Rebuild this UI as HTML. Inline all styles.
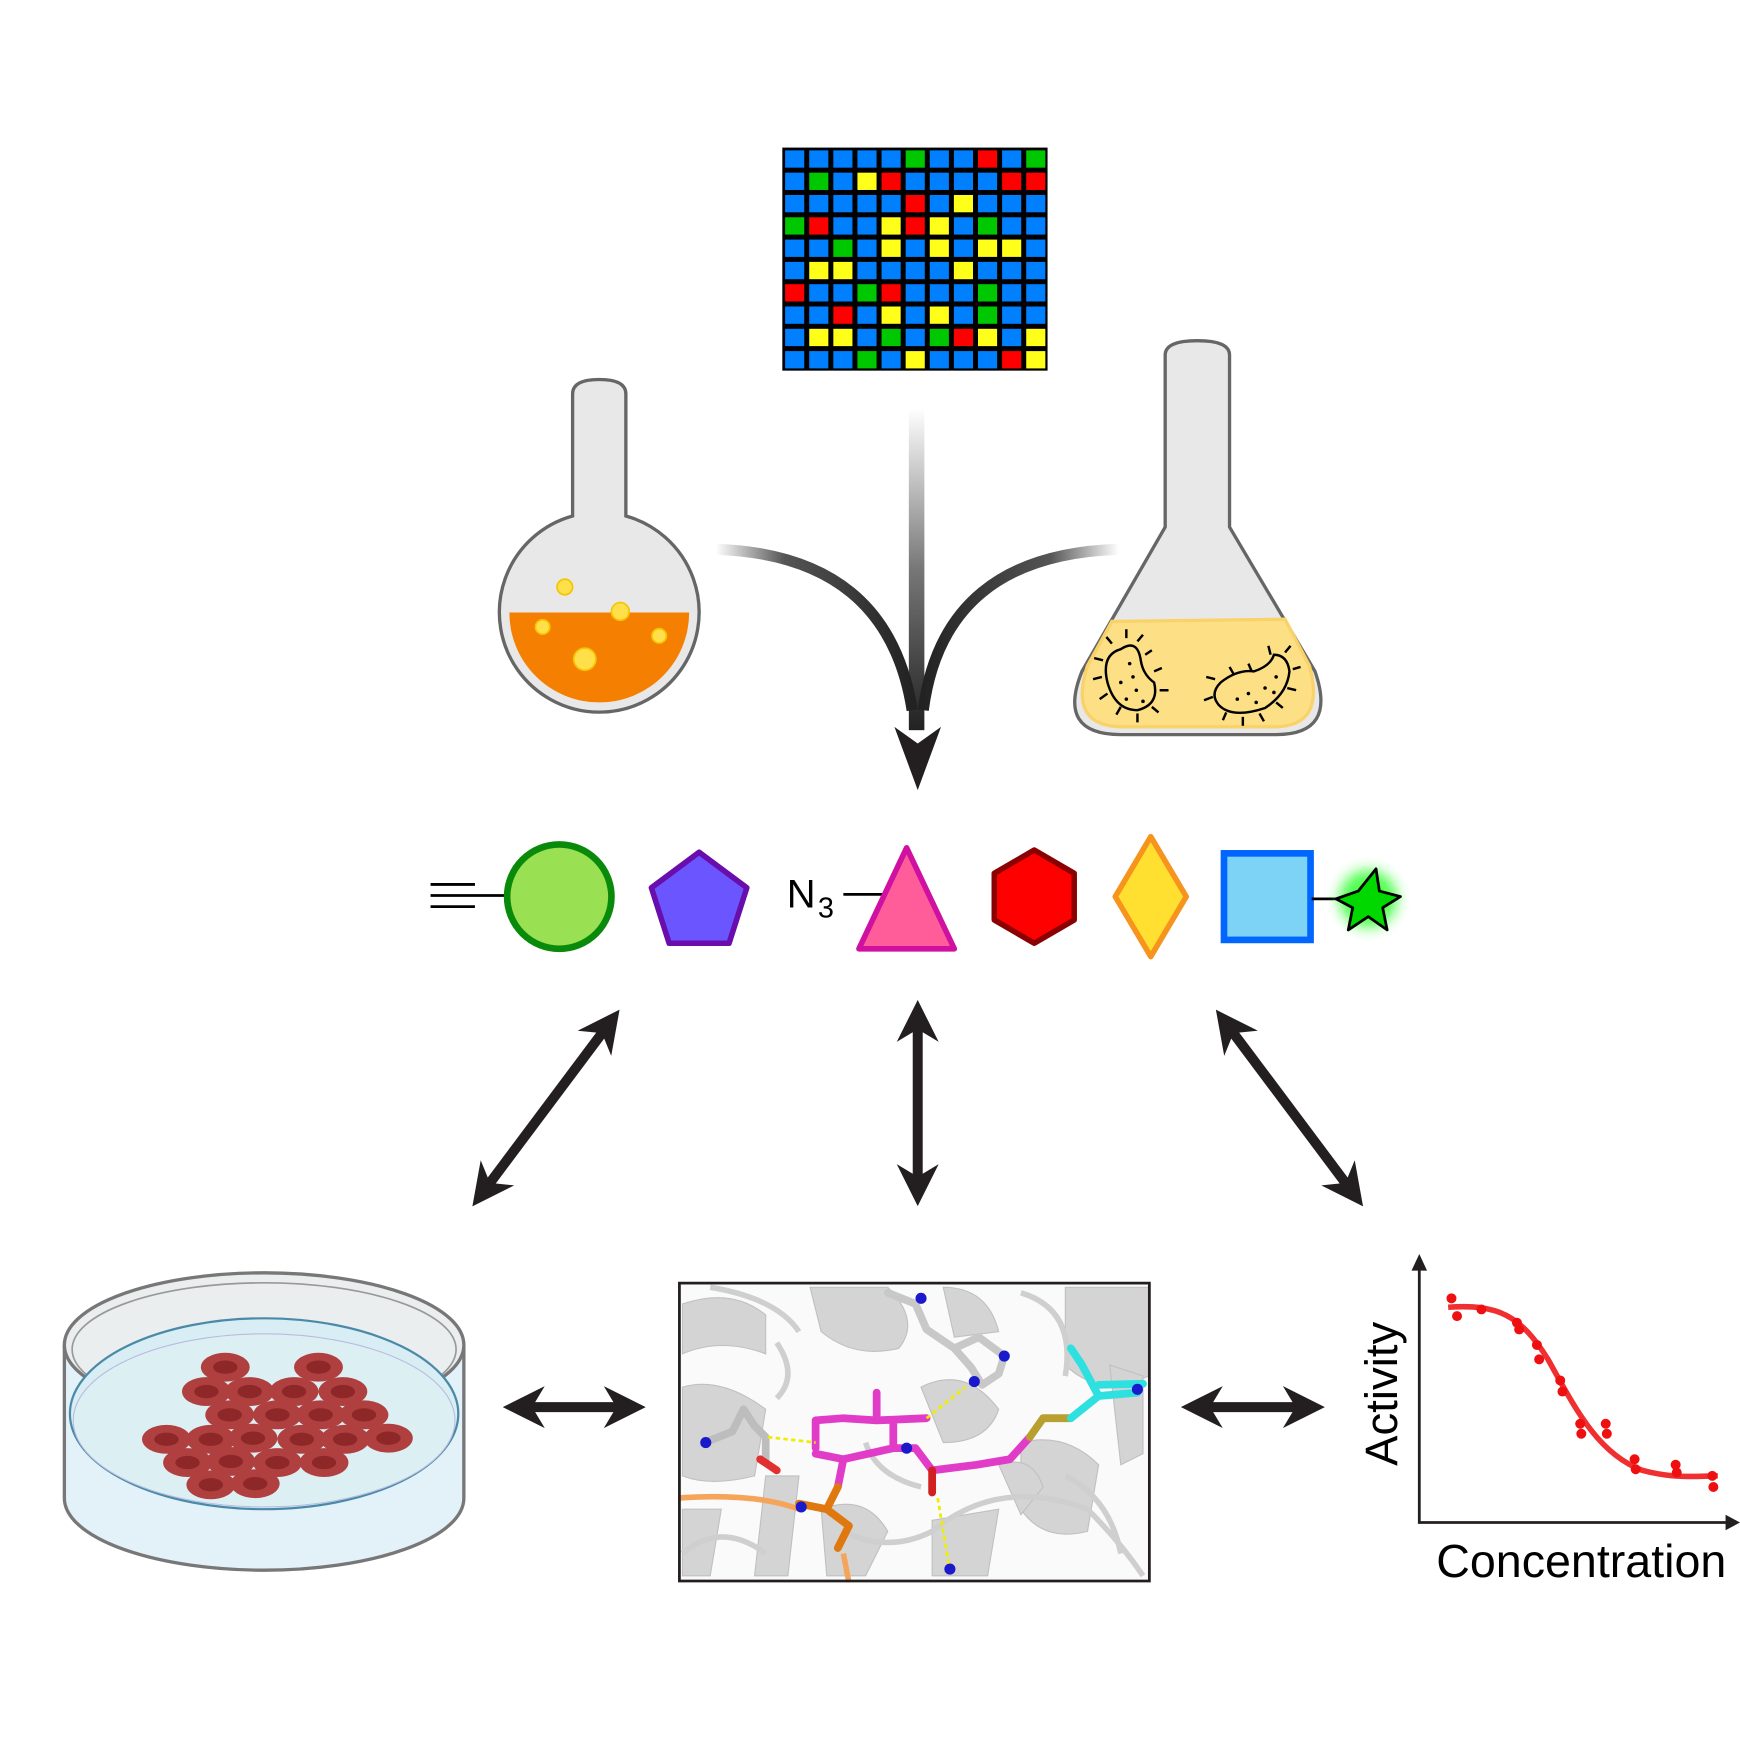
<!DOCTYPE html>
<html><head><meta charset="utf-8"><style>html,body{margin:0;padding:0;background:#fff}svg{display:block}</style></head>
<body>
<svg width="1740" height="1740" viewBox="0 0 1568 1568" xmlns="http://www.w3.org/2000/svg">
<defs>
<linearGradient id="gv" x1="0" y1="0" x2="0" y2="1"><stop offset="0" stop-color="#fff"/><stop offset="0.5" stop-color="#777"/><stop offset="1" stop-color="#222"/></linearGradient>
<linearGradient id="gl" x1="0" y1="0" x2="1" y2="0"><stop offset="0" stop-color="#fff"/><stop offset="0.35" stop-color="#555"/><stop offset="1" stop-color="#222"/></linearGradient>
<linearGradient id="gr" x1="1" y1="0" x2="0" y2="0"><stop offset="0" stop-color="#fff"/><stop offset="0.35" stop-color="#555"/><stop offset="1" stop-color="#222"/></linearGradient>
<filter id="glow" x="-1" y="-1" width="3" height="3"><feGaussianBlur stdDeviation="6"/></filter>
<marker id="ah" viewBox="0 0 10 10" refX="5" refY="5" markerWidth="4.2" markerHeight="4.2" orient="auto-start-reverse"><path d="M0,0 L10,5 L0,10 L3,5 Z" fill="#231f20"/></marker>
</defs>

<rect x="705" y="133" width="239" height="201" fill="#000"/>

<!-- round flask -->
<path d="M516,465 L516,355 Q516,342 540,342 Q564,342 564,355 L564,465 A90,90 0 1 1 516,465 Z" fill="#e8e8e8" stroke="#666" stroke-width="3"/>
<path d="M459,552 L621,552 A81,81 0 0 1 459,552 Z" fill="#f57f00"/>
<g fill="#ffe04a" stroke="#f5c400" stroke-width="1.5">
<circle cx="509" cy="529" r="7"/><circle cx="559" cy="551" r="8"/><circle cx="489" cy="565" r="6.5"/><circle cx="594" cy="573" r="6.5"/><circle cx="527" cy="594" r="10"/>
</g>

<!-- erlenmeyer -->
<path d="M1050,475 L1050,320 Q1050,307 1079,307 Q1108,307 1108,320 L1108,475 L1185,605 Q1205,662 1150,662 L1010,662 Q952,662 975,605 Z" fill="#e8e8e8" stroke="#666" stroke-width="3"/>
<path d="M1002,560 L1158,558 L1180,600 Q1195,655 1148,655 L1012,655 Q962,655 980,600 Z" fill="#fddf85" stroke="#f9d36a" stroke-width="3"/>
<g fill="none" stroke="#000" stroke-width="2.2">
<path d="M1010,585 Q1025,575 1028,595 Q1030,608 1040,615 Q1045,635 1025,640 Q1005,640 998,615 Q992,590 1010,585 Z"/>
<path d="M1100,615 Q1115,603 1130,605 Q1145,600 1148,590 Q1160,590 1162,605 Q1160,625 1140,638 Q1110,648 1098,635 Q1090,625 1100,615 Z"/>
<path d="M1002,580 l-5,-6 M1015,575 l0,-8 M1025,578 l5,-6 M994,595 l-8,-2 M993,610 l-8,2 M998,625 l-7,5 M1010,637 l-4,7 M1025,643 l0,8 M1038,637 l6,5 M1045,622 l8,0 M1040,605 l7,-3 M1032,590 l6,-4"/>
<path d="M1095,612 l-8,-2 M1093,628 l-8,3 M1105,642 l-3,7 M1120,646 l0,8 M1135,643 l4,7 M1150,633 l6,5 M1160,620 l8,2 M1165,603 l7,-2 M1158,588 l5,-6 M1145,590 l-2,-8 M1128,605 l-3,-7 M1112,608 l-4,-7"/>
</g>
<g fill="#000"><circle cx="1018" cy="598" r="1.6"/><circle cx="1021" cy="610" r="1.6"/><circle cx="1010" cy="615" r="1.6"/><circle cx="1024" cy="622" r="1.6"/><circle cx="1030" cy="632" r="1.6"/><circle cx="1015" cy="630" r="1.6"/>
<circle cx="1115" cy="630" r="1.6"/><circle cx="1125" cy="625" r="1.6"/><circle cx="1140" cy="620" r="1.6"/><circle cx="1150" cy="610" r="1.6"/><circle cx="1132" cy="633" r="1.6"/><circle cx="1148" cy="624" r="1.6"/></g>

<!-- converging arrows -->
<rect x="819" y="368" width="14" height="290" fill="url(#gv)"/>
<path d="M645,495 Q800,500 822,640" fill="none" stroke="url(#gl)" stroke-width="10"/>
<path d="M1008,495 Q850,500 832,640" fill="none" stroke="url(#gr)" stroke-width="10"/>
<path d="M806,655 L827,712 L848,655 L827,670 Z" fill="#231f20"/>

<!-- shapes row -->
<g stroke="#000" stroke-width="2.5"><line x1="388" y1="797" x2="428" y2="797"/><line x1="388" y1="807" x2="455" y2="807"/><line x1="388" y1="817" x2="428" y2="817"/></g>
<circle cx="504" cy="808" r="47" fill="#99e052" stroke="#0a8a0a" stroke-width="6"/>
<polygon points="630,768 673,800 657,850 603,850 587,800" fill="#6b55ff" stroke="#6a0dad" stroke-width="5" stroke-linejoin="round"/>
<text x="709" y="818" font-family="Liberation Sans, sans-serif" font-size="36">N</text>
<text x="737" y="827" font-family="Liberation Sans, sans-serif" font-size="26">3</text>
<line x1="760" y1="806" x2="795" y2="806" stroke="#000" stroke-width="2.5"/>
<polygon points="817,764 860,855 774,855" fill="#ff5c9a" stroke="#d010a0" stroke-width="5" stroke-linejoin="round"/>
<polygon points="932,766 968,787 968,829 932,850 896,829 896,787" fill="#ff0000" stroke="#8b0000" stroke-width="5" stroke-linejoin="round"/>
<polygon points="1037,754 1069,808 1037,862 1005,808" fill="#ffe030" stroke="#f7941d" stroke-width="5" stroke-linejoin="round"/>
<rect x="1103" y="769" width="78" height="78" fill="#7dd3f5" stroke="#0066ff" stroke-width="6"/>
<line x1="1182" y1="810" x2="1205" y2="810" stroke="#000" stroke-width="2.5"/>
<circle cx="1233" cy="810" r="26" fill="#22ff22" filter="url(#glow)" opacity="0.8"/>
<polygon points="1240,783 1243,803 1262,808 1246,818 1250,838 1233,826 1215,838 1219,818 1204,810 1224,803" fill="#00d800" stroke="#000" stroke-width="2.5" stroke-linejoin="round"/>

<!-- double arrows -->
<g stroke="#231f20" stroke-width="9" marker-start="url(#ah)" marker-end="url(#ah)">
<line x1="547" y1="925" x2="437" y2="1072"/>
<line x1="827" y1="920" x2="827" y2="1068"/>
<line x1="1107" y1="925" x2="1217" y2="1072"/>
<line x1="472" y1="1268" x2="563" y2="1268"/>
<line x1="1083" y1="1268" x2="1175" y2="1268"/>
</g>

<!-- petri dish -->
<path d="M58,1212 L58,1350 A180,65 0 0 0 418,1350 L418,1212" fill="#e3f2f8" stroke="#777" stroke-width="3"/>
<ellipse cx="238" cy="1212" rx="180" ry="65" fill="#eaeeee" stroke="#777" stroke-width="3"/>
<ellipse cx="238" cy="1216" rx="173" ry="60" fill="none" stroke="#999" stroke-width="1.5"/>
<ellipse cx="238" cy="1274" rx="175" ry="86" fill="#d8eef4" stroke="#4a8aa8" stroke-width="2"/>
<ellipse cx="238" cy="1280" rx="172" ry="78" fill="#dcf0f4" stroke="#bbd" stroke-width="1"/>
<g fill="#b04040"><ellipse cx="203" cy="1232" rx="22" ry="13"/><ellipse cx="287" cy="1232" rx="22" ry="13"/>
<ellipse cx="186" cy="1254" rx="22" ry="13"/><ellipse cx="225" cy="1254" rx="22" ry="13"/><ellipse cx="265" cy="1254" rx="22" ry="13"/><ellipse cx="309" cy="1254" rx="22" ry="13"/>
<ellipse cx="207" cy="1275" rx="22" ry="13"/><ellipse cx="250" cy="1275" rx="22" ry="13"/><ellipse cx="289" cy="1275" rx="22" ry="13"/><ellipse cx="328" cy="1275" rx="22" ry="13"/>
<ellipse cx="150" cy="1297" rx="22" ry="13"/><ellipse cx="190" cy="1297" rx="22" ry="13"/><ellipse cx="228" cy="1296" rx="22" ry="13"/><ellipse cx="272" cy="1297" rx="22" ry="13"/><ellipse cx="311" cy="1297" rx="22" ry="13"/><ellipse cx="350" cy="1296" rx="22" ry="13"/>
<ellipse cx="169" cy="1318" rx="22" ry="13"/><ellipse cx="208" cy="1317" rx="22" ry="13"/><ellipse cx="250" cy="1318" rx="22" ry="13"/><ellipse cx="292" cy="1318" rx="22" ry="13"/>
<ellipse cx="190" cy="1338" rx="22" ry="13"/><ellipse cx="230" cy="1337" rx="22" ry="13"/></g>
<g fill="#8e2828"><ellipse cx="203" cy="1232" rx="11" ry="6"/><ellipse cx="287" cy="1232" rx="11" ry="6"/>
<ellipse cx="186" cy="1254" rx="11" ry="6"/><ellipse cx="225" cy="1254" rx="11" ry="6"/><ellipse cx="265" cy="1254" rx="11" ry="6"/><ellipse cx="309" cy="1254" rx="11" ry="6"/>
<ellipse cx="207" cy="1275" rx="11" ry="6"/><ellipse cx="250" cy="1275" rx="11" ry="6"/><ellipse cx="289" cy="1275" rx="11" ry="6"/><ellipse cx="328" cy="1275" rx="11" ry="6"/>
<ellipse cx="150" cy="1297" rx="11" ry="6"/><ellipse cx="190" cy="1297" rx="11" ry="6"/><ellipse cx="228" cy="1296" rx="11" ry="6"/><ellipse cx="272" cy="1297" rx="11" ry="6"/><ellipse cx="311" cy="1297" rx="11" ry="6"/><ellipse cx="350" cy="1296" rx="11" ry="6"/>
<ellipse cx="169" cy="1318" rx="11" ry="6"/><ellipse cx="208" cy="1317" rx="11" ry="6"/><ellipse cx="250" cy="1318" rx="11" ry="6"/><ellipse cx="292" cy="1318" rx="11" ry="6"/>
<ellipse cx="190" cy="1338" rx="11" ry="6"/><ellipse cx="230" cy="1337" rx="11" ry="6"/></g>

<!-- protein box -->
<svg x="611" y="1155" width="426" height="271" viewBox="611 1155 426 271">
<rect x="611" y="1155" width="426" height="271" fill="#fafafa"/>
<g fill="#d4d4d4" stroke="#c0c0c0" stroke-width="1">
<path d="M615,1175 Q660,1160 690,1185 L690,1220 Q650,1205 615,1220 Z"/>
<path d="M730,1160 L800,1160 Q830,1190 810,1215 Q770,1225 740,1200 Z"/>
<path d="M830,1250 Q870,1230 900,1270 Q890,1300 850,1300 Z"/>
<path d="M615,1250 Q650,1240 690,1270 L680,1330 Q640,1340 615,1330 Z"/>
<path d="M960,1160 L1035,1160 L1035,1240 Q990,1260 960,1230 Z"/>
<path d="M690,1330 L720,1330 L710,1420 L680,1420 Z"/>
<path d="M920,1300 Q960,1290 990,1320 L980,1380 Q940,1390 920,1360 Z"/>
<path d="M840,1370 L900,1360 L890,1420 L840,1420 Z"/>
<path d="M1000,1230 L1030,1240 L1030,1310 L1010,1320 Z"/>
<path d="M850,1160 Q890,1160 900,1200 L860,1205 Z"/>
<path d="M740,1360 Q780,1345 800,1380 L780,1420 L745,1420 Z"/>
<path d="M900,1320 Q930,1310 940,1340 L920,1365 Z"/>
<path d="M615,1360 L650,1360 L640,1420 L615,1420 Z"/>
</g>
<g fill="none" stroke="#cfcfcf" stroke-width="5">
<path d="M700,1210 Q720,1240 700,1260"/><path d="M760,1380 Q800,1400 840,1380 Q900,1330 980,1360 Q1010,1390 1030,1420"/>
<path d="M920,1165 Q970,1180 960,1240"/><path d="M780,1300 Q790,1330 830,1340"/><path d="M615,1400 Q650,1370 690,1400"/>
<path d="M960,1330 Q1000,1350 1010,1400"/><path d="M640,1160 Q700,1170 720,1200"/>
</g>
<path d="M611,1350 Q680,1345 720,1360" fill="none" stroke="#f5a55a" stroke-width="5"/>
<path d="M760,1400 L765,1426" fill="none" stroke="#f5a55a" stroke-width="5"/>
<g fill="none" stroke-width="7" stroke-linecap="round" stroke-linejoin="round">
<path d="M800,1165 L825,1175 L835,1198 L860,1215 L875,1232 L885,1248 L900,1238 L905,1222 L882,1205 L860,1215" stroke="#c8c8c8"/>
<path d="M635,1300 L660,1290 L670,1270 L680,1285 L690,1295 L690,1318" stroke="#bdbdbd"/>
<path d="M735,1305 L735,1280 L760,1278 L790,1280 L835,1278 M790,1280 L790,1255 M805,1280 L805,1305 L760,1315 L755,1340 M805,1305 L825,1305 L840,1325 L880,1320 L910,1315 L928,1295" stroke="#e03cc8"/>
<path d="M760,1315 L735,1310" stroke="#e03cc8"/>
<path d="M840,1325 L840,1345" stroke="#d02020"/>
<path d="M928,1295 L940,1278 L965,1278" stroke="#b8a030"/>
<path d="M965,1278 L990,1258 L975,1230 L965,1215 M990,1258 L1025,1255 M990,1248 L1030,1247" stroke="#2ee0e0"/>
<path d="M755,1340 L745,1360 L765,1375 L755,1395 M745,1360 L720,1355" stroke="#e07810"/>
<path d="M685,1315 L700,1325" stroke="#e03030"/>
</g>
<g fill="#1a1acc"><circle cx="830" cy="1170" r="5"/><circle cx="878" cy="1245" r="5"/><circle cx="905" cy="1222" r="5"/><circle cx="817" cy="1305" r="5"/><circle cx="722" cy="1358" r="5"/><circle cx="856" cy="1414" r="5"/><circle cx="1025" cy="1252" r="5"/><circle cx="636" cy="1300" r="5"/></g>
<g fill="none" stroke="#eeee00" stroke-width="2.5" stroke-dasharray="4,3"><path d="M692,1295 L735,1300"/><path d="M835,1278 L870,1250"/><path d="M845,1350 L855,1410"/></g>
<rect x="611" y="1155" width="426" height="271" fill="none" stroke="#231f20" stroke-width="5"/>
</svg>

<!-- graph -->
<g stroke="#231f20" stroke-width="2.5" fill="none"><path d="M1279,1140 L1279,1372 L1562,1372"/></g>
<path d="M1272,1145 L1279,1130 L1286,1145 Z" fill="#231f20"/>
<path d="M1555,1365 L1568,1372 L1555,1379 Z" fill="#231f20"/>
<path d="M1305,1178 C1350,1175 1370,1185 1395,1225 C1420,1270 1440,1310 1480,1325 C1510,1333 1530,1330 1548,1330" fill="none" stroke="#f03030" stroke-width="5"/>
<g fill="#ee1010">
<circle cx="1308" cy="1170" r="4.5"/><circle cx="1313" cy="1186" r="4.5"/><circle cx="1335" cy="1180" r="4.5"/><circle cx="1367" cy="1192" r="4.5"/><circle cx="1369" cy="1198" r="4.5"/><circle cx="1385" cy="1212" r="4.5"/><circle cx="1387" cy="1225" r="4.5"/><circle cx="1406" cy="1244" r="4.5"/><circle cx="1408" cy="1254" r="4.5"/><circle cx="1424" cy="1283" r="4.5"/><circle cx="1425" cy="1292" r="4.5"/><circle cx="1447" cy="1283" r="4.5"/><circle cx="1448" cy="1292" r="4.5"/><circle cx="1473" cy="1315" r="4.5"/><circle cx="1474" cy="1324" r="4.5"/><circle cx="1510" cy="1320" r="4.5"/><circle cx="1511" cy="1327" r="4.5"/><circle cx="1543" cy="1330" r="4.5"/><circle cx="1544" cy="1340" r="4.5"/>
</g>
<text x="1259" y="1256" transform="rotate(-90 1259 1256)" text-anchor="middle" font-family="Liberation Sans, sans-serif" font-size="41">Activity</text>
<text x="1425" y="1421" text-anchor="middle" font-family="Liberation Sans, sans-serif" font-size="42">Concentration</text>

<g id="cells"></g>
</svg>
<script>
var rows=["BBBBBGBBRBG","BGBYRBBBBRR","BBBBBRBYBBB","GRBBYRYBGBB","BBGBYBYBYYB","BYYBBBBYBBB","RBBGRBBBGBB","BBRBYBYBGBB","BYYBGBGRYBY","BBBGBYBBBRY"];
var col={B:"#0080ff",G:"#00c800",Y:"#ffff1a",R:"#ff0000"};
var g=document.getElementById("cells"),ns="http://www.w3.org/2000/svg";
var cw=239/11,ch=201/10;
for(var r=0;r<10;r++)for(var c=0;c<11;c++){var e=document.createElementNS(ns,"rect");e.setAttribute("x",705+c*cw+2.5);e.setAttribute("y",133+r*ch+2.5);e.setAttribute("width",cw-4.5);e.setAttribute("height",ch-4.5);e.setAttribute("fill",col[rows[r][c]]);g.appendChild(e);}
</script>
</body></html>
